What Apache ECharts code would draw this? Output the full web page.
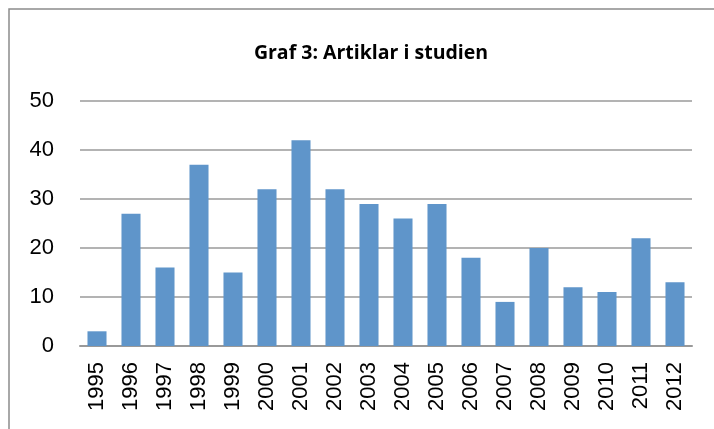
<!DOCTYPE html>
<html><head><meta charset="utf-8">
<script src="https://cdn.jsdelivr.net/npm/echarts@6/dist/echarts.min.js"></script>
<style>html,body{margin:0;padding:0;background:#fff}#c{width:714px;height:429px}</style>
</head><body><div id="c"></div>
<script>
const categories = ['1995','1996','1997','1998','1999','2000','2001','2002','2003','2004','2005','2006','2007','2008','2009','2010','2011','2012'];
const values = [3, 27, 16, 37, 15, 32, 42, 32, 29, 26, 29, 18, 9, 20, 12, 11, 22, 13];
const titleText = 'Graf 3: Artiklar i studien';
const chart = echarts.init(document.getElementById('c'), null, {renderer:'canvas'});
chart.setOption({
  animation:false,
  graphic:[{type:'rect',shape:{x:9,y:9,width:800,height:600},style:{fill:'none',stroke:'#8c8c8c',lineWidth:1.5},z:-1}],
  title:{text:titleText,left:366,textAlign:'center',top:38,textStyle:{fontFamily:'Open Sans',fontWeight:'bold',fontSize:19.5,color:'#000'}},
  grid:{left:80,right:22,top:101,bottom:83},
  xAxis:{type:'category',data:categories,
    axisLine:{lineStyle:{color:'#999',width:2}},axisTick:{show:false},
    axisLabel:{rotate:90,margin:16,fontFamily:'Liberation Sans',fontSize:22,color:'#000',interval:0}},
  yAxis:{type:'value',min:0,max:50,interval:10,
    axisLine:{show:false},axisTick:{show:false},
    splitLine:{lineStyle:{color:'#9a9a9a',width:1.5}},
    axisLabel:{margin:26,fontFamily:'Liberation Sans',fontSize:22,color:'#000'}},
  series:[{type:'bar',data:values,barCategoryGap:'44%',itemStyle:{color:'#5f95ca'}}]
});
</script></body></html>
